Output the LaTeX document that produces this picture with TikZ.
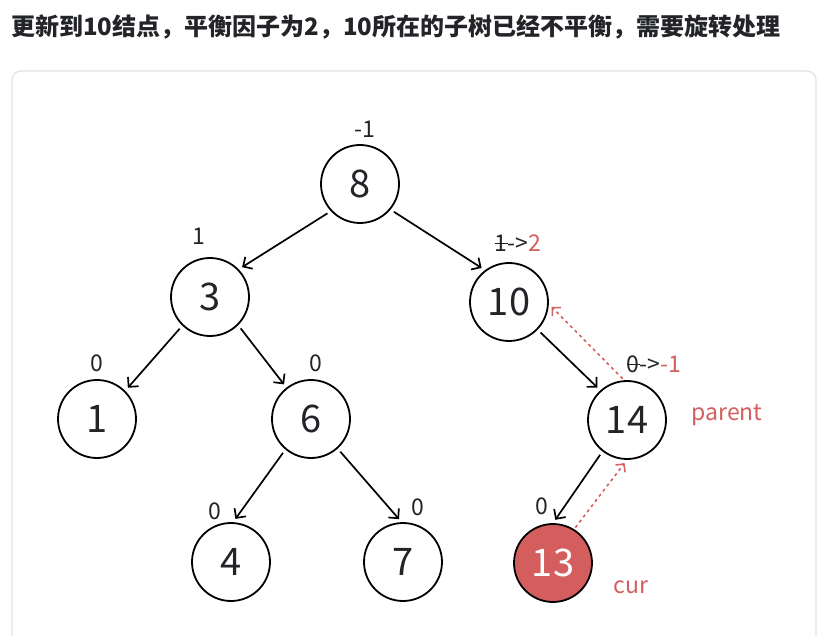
\documentclass[tikz,border=0pt]{standalone}
\usepackage{fontspec}
\setmainfont{Noto Sans CJK SC}
\usetikzlibrary{arrows.meta}
\definecolor{hot}{RGB}{212,94,94}
\definecolor{ink}{RGB}{34,36,40}
\definecolor{rim}{RGB}{226,226,226}
\newsavebox\wasbox
\newcommand\was[1]{\sbox\wasbox{#1}\rlap{\usebox\wasbox}\rule[0.3em]{\wd\wasbox}{1.3pt}}
\begin{document}
\begin{tikzpicture}[x=1pt,y=-1pt,
  vertex/.style={draw, circle, line width=1.8pt, minimum size=78pt, inner sep=0pt,
    text=ink, font=\fontsize{38}{38}\selectfont},
  factor/.style={text=ink, inner sep=0pt, font=\fontsize{23}{23}\selectfont},
  edge/.style={line width=1.7pt, shorten <=4pt, shorten >=4pt,
    -{Straight Barb[length=7pt,width=14pt,line width=1.7pt]}},
  back/.style={hot, line width=1.6pt, dash pattern=on 3pt off 3.5pt, shorten <=2pt, shorten >=4pt,
    -{Straight Barb[length=6pt,width=12pt,line width=1.5pt]}}]
  \useasboundingbox (0,0) rectangle (817,636);
  % Title
  \node[anchor=west, inner sep=0pt, text=ink, font=\fontsize{24}{24}\selectfont\bfseries] (title) at (11,27)
    {更新到10结点，平衡因子为2，10所在的子树已经不平衡，需要旋转处理};
  % Frame
  \draw[rim, line width=1.3pt, rounded corners=9pt] (12,71) rectangle (816,650);
  % Tree nodes
  \foreach \name/\x/\y in {8/360/184, 3/210/297, 10/509/302, 1/97/419, 6/311/419,
                           14/627/420, 4/231/562, 7/403/562} {
    \node[vertex] (n\name) at (\x,\y) {\name};
  }
  \node[vertex, fill=hot, text=white] (n13) at (553,563) {13};
  % Edges
  \foreach \a/\from/\b/\to in {8/-137/3/44, 8/-40/10/127, 3/-134/1/45, 3/-45/6/128,
                               6/-130/4/87, 6/-48/7/92, 10/-44/14/132, 14/-128/13/90} {
    \draw[edge] (n\a.\from) -- (n\b.\to);
  }
  % Balance factors
  \foreach \x/\y/\val in {365/129/-1, 199/236/1, 97/363/0, 316/363/0,
                          215/511/0, 418/507/0, 542/506/0} {
    \node[factor] at (\x,\y) {\val};
  }
  \node[factor] (f10) at (518,243) {\was{1}->\textcolor{hot}{2}};
  \node[factor] (f14) at (654,364) {\was{0}->\textcolor{hot}{-1}};
  % Backtracking
  \node[factor, text=hot] (parent) at (727,415) {parent};
  \node[factor, text=hot] (cur) at (631,587) {cur};
  \draw[back] (n13.58) -- (n14.south);
  \draw[back] ([xshift=-3pt]n14.north) -- (n10.-3);
\end{tikzpicture}
\end{document}
